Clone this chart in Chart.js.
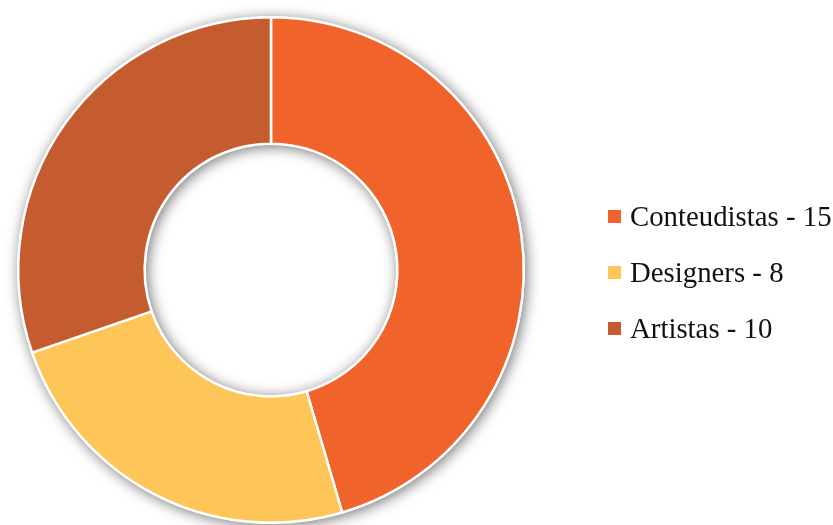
<!DOCTYPE html>
<html>
<head>
<meta charset="utf-8">
<script src="https://cdn.jsdelivr.net/npm/chart.js@4.4.1/dist/chart.umd.min.js"></script>
<style>
  html, body { margin: 0; padding: 0; background: #fff; }
  #wrap { position: relative; width: 833px; height: 525px; }
  #legend { position: absolute; left: 608px; top: 188px; font-family: "Liberation Serif", serif; font-size: 28.8px; color: #111; }
  .item { display: flex; align-items: center; height: 56px; white-space: nowrap; }
  .box { width: 13px; height: 13px; margin-right: 9px; }
</style>
</head>
<body>
<div id="wrap">
  <canvas id="chartCanvas" width="833" height="525"></canvas>
  <div id="legend"></div>
</div>
<script>
const LABELS = ['Conteudistas', 'Designers', 'Artistas'];
const VALUES = [15, 8, 10];
const COLORS = ['#F0642B', '#FEC658', '#C55C30'];

// soft shadow under the whole ring (also shades the inside of the hole)
const ringShadow = {
    id: 'ringShadow',
    beforeDatasetsDraw(chart) {
        let arc = chart.getDatasetMeta(0).data[0];
        if (!arc) return;
        let p = arc.getProps(['x', 'y', 'outerRadius', 'innerRadius'], true);
        let ctx = chart.ctx;
        ctx.save();
        ctx.shadowColor = 'rgba(0, 0, 0, 0.55)';
        ctx.shadowBlur = 14;
        ctx.shadowOffsetX = 2;
        ctx.shadowOffsetY = 2;
        ctx.fillStyle = '#fff';
        ctx.beginPath();
        ctx.arc(p.x, p.y, p.outerRadius + 1, 0, Math.PI * 2);
        ctx.arc(p.x, p.y, p.innerRadius - 1, 0, Math.PI * 2, true);
        ctx.fill();
        ctx.restore();
    }
};

function buildLegend(chart) {
    /*
    html legend on the right : colored square + "label - value"
    */
    let div = document.getElementById('legend');
    let items = chart.options.plugins.legend.labels.generateLabels(chart);
    items.forEach((it, i) => {
        let row = document.createElement('div');
        row.className = 'item';
        row.innerHTML = `<span class="box" style="background:${it.fillStyle}"></span>${LABELS[i]} - ${VALUES[i]}`;
        div.appendChild(row);
    });
}

let chart = new Chart(document.getElementById('chartCanvas').getContext('2d'), {
    type: 'doughnut',
    data: {
        labels: LABELS,
        datasets: [{
            data: VALUES,
            backgroundColor: COLORS,
            borderColor: '#ffffff',
            borderWidth: 2.5,
            hoverOffset: 0
        }]
    },
    options: {
        responsive: false,
        animation: false,
        cutout: '50%',
        layout: { padding: { left: 17, top: 16, bottom: 1, right: 308 } },
        plugins: {
            legend: { display: false },
            tooltip: { enabled: false }
        }
    },
    plugins: [ringShadow]
});

buildLegend(chart);
</script>
</body>
</html>
